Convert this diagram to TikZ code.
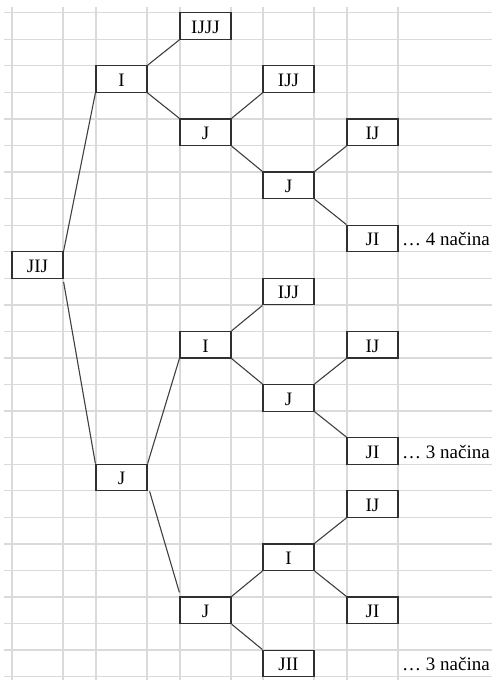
\documentclass[tikz,border=0pt]{standalone}
\usepackage{fontspec}
\setmainfont{Liberation Serif}
\definecolor{gridgray}{HTML}{DADADA}
\definecolor{boxgray}{HTML}{303030}
\definecolor{linkgray}{HTML}{404040}
\begin{document}
\begin{tikzpicture}[x=1pt,y=-1pt,
  gridline/.style={draw=gridgray, line width=1.3pt},
  cell/.style={draw=boxgray, line width=1.2pt, fill=white, minimum width=51pt,
    minimum height=26.56pt, inner sep=0pt, text height=14.6pt, text depth=0pt,
    font=\fontsize{19}{22}\selectfont},
  link/.style={draw=linkgray, line width=1.1pt},
  note/.style={anchor=west, inner sep=0pt, text height=14.6pt, text depth=0pt,
    font=\fontsize{19}{22}\selectfont}]
\useasboundingbox (0,0) rectangle (492,680);
\fill[white] (0,0) rectangle (492,680);
% grid
\foreach \k in {0,...,25} {
  \draw[gridline] (4,{12.7+26.56*\k}) -- (492,{12.7+26.56*\k});
}
\foreach \x in {12,63,96,147,180,231,263,314,347,398} {
  \draw[gridline] (\x,7) -- (\x,680);
}
% nodes
\node[cell] (jij)  at (37.5,265.02) {JIJ};
\node[cell] (i1)   at (121.5,79.1)  {I};
\node[cell] (j1)   at (121.5,477.5) {J};
\node[cell] (ijjj) at (205.5,25.98) {IJJJ};
\node[cell] (j2a)  at (205.5,132.22) {J};
\node[cell] (i2)   at (205.5,344.7) {I};
\node[cell] (j2b)  at (205.5,610.3) {J};
\node[cell] (ijja) at (288.5,79.1)  {IJJ};
\node[cell] (j3a)  at (288.5,185.34) {J};
\node[cell] (ijjb) at (288.5,291.58) {IJJ};
\node[cell] (j3b)  at (288.5,397.82) {J};
\node[cell] (i3)   at (288.5,557.18) {I};
\node[cell] (jii)  at (288.5,663.42) {JII};
\node[cell] (ija)  at (372.5,132.22) {IJ};
\node[cell] (jia)  at (372.5,238.46) {JI};
\node[cell] (ijb)  at (372.5,344.7) {IJ};
\node[cell] (jib)  at (372.5,450.94) {JI};
\node[cell] (ijc)  at (372.5,504.06) {IJ};
\node[cell] (jic)  at (372.5,610.3) {JI};
\node[note] (n4)   at (402,238.46) {… 4 načina};
\node[note] (n3a)  at (402,450.94) {… 3 načina};
\node[note] (n3b)  at (402,663.42) {… 3 načina};
% links
\draw[link] (jij.north east) -- (i1.south west);
\draw[link] ([yshift=-3pt]jij.south east) -- (j1.north west);
\draw[link] (i1.north east) -- (ijjj.south west);
\draw[link] (i1.south east) -- (j2a.north west);
\draw[link] (j2a.north east) -- (ijja.south west);
\draw[link] (j2a.south east) -- (j3a.north west);
\draw[link] (j3a.north east) -- (ija.south west);
\draw[link] (j3a.south east) -- (jia.north west);
\draw[link] (j1.north east) -- (i2.south west);
\draw[link] ([xshift=2pt]j1.south east) -- ([yshift=4pt]j2b.north west);
\draw[link] (i2.north east) -- (ijjb.south west);
\draw[link] (i2.south east) -- (j3b.north west);
\draw[link] (j3b.north east) -- (ijb.south west);
\draw[link] (j3b.south east) -- (jib.north west);
\draw[link] (j2b.north east) -- (i3.south west);
\draw[link] (j2b.south east) -- (jii.north west);
\draw[link] (i3.north east) -- (ijc.south west);
\draw[link] (i3.south east) -- (jic.north west);
\end{tikzpicture}
\end{document}
